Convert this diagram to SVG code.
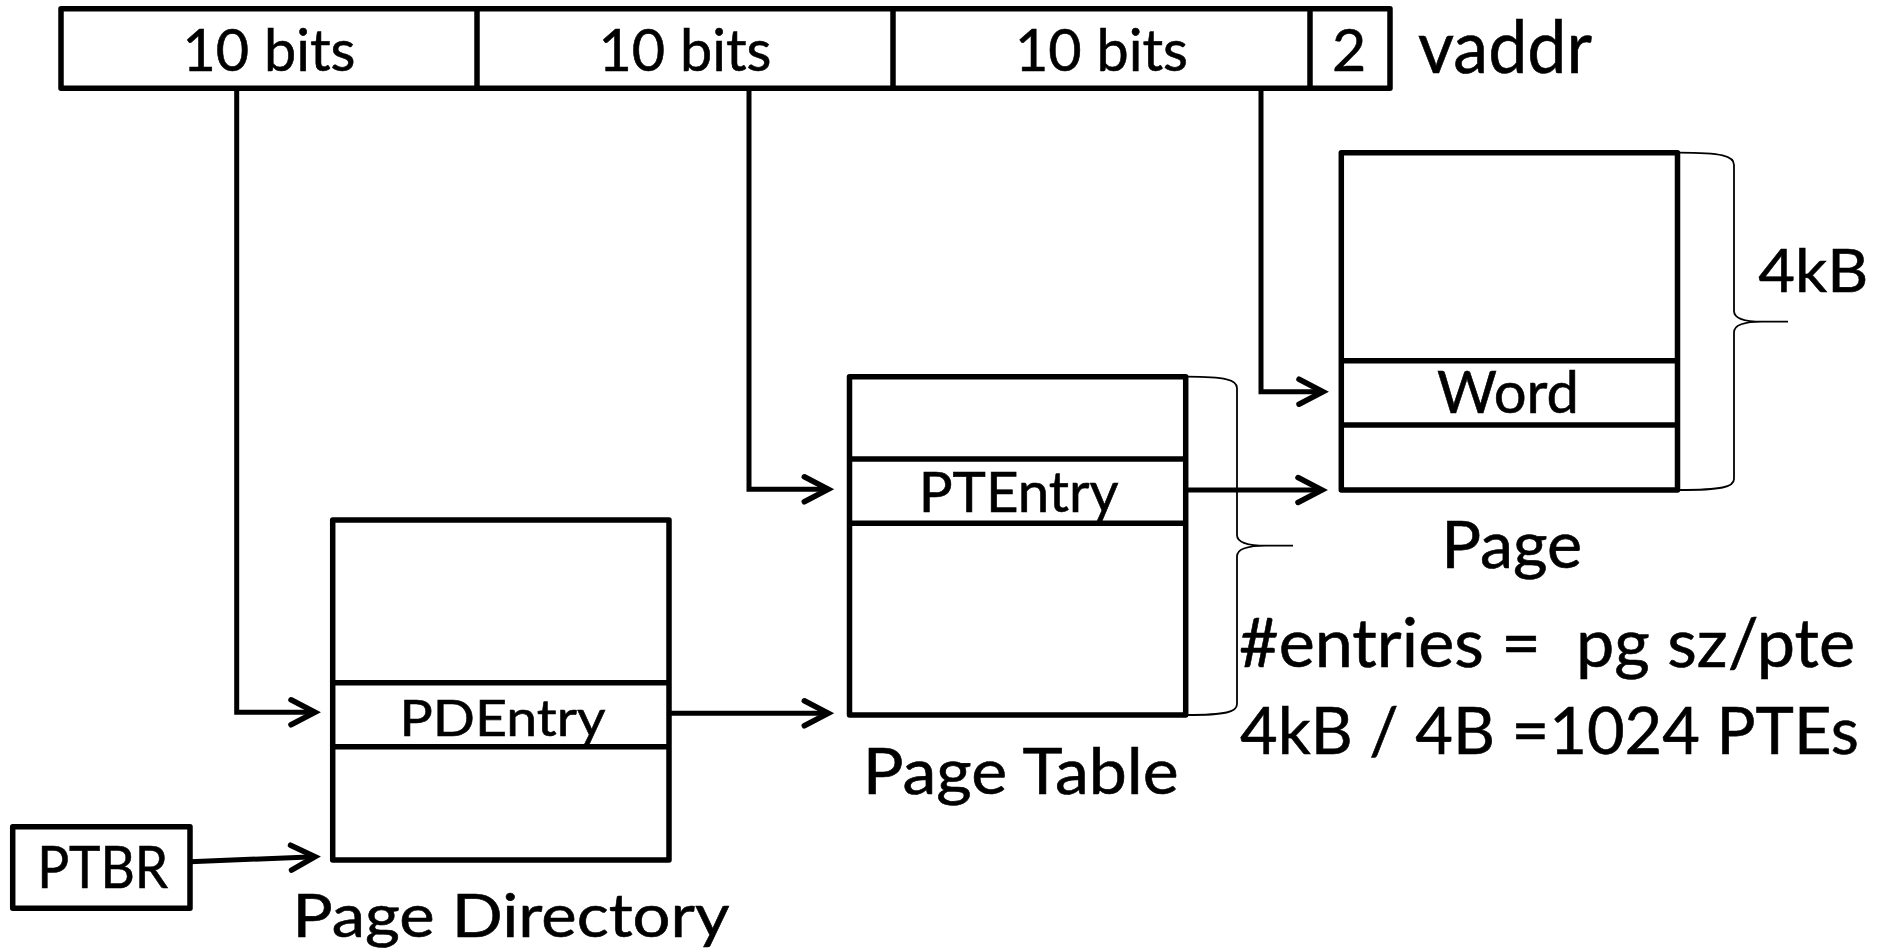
<svg xmlns="http://www.w3.org/2000/svg" width="1889" height="948" viewBox="0 0 1889 948">
  <style>
    .box { fill: #fff; stroke: #000; stroke-width: 5.5; stroke-linejoin: round; }
    .div { stroke: #000; stroke-width: 5.5; fill: none; }
    .wire { stroke: #000; stroke-width: 5; fill: none; stroke-linejoin: miter; }
    .brace { stroke: #000; stroke-width: 1.8; fill: none; }
    text { font-family: Lato, "Liberation Sans", sans-serif; fill: #000; stroke: #000; stroke-width: 0.6; }
    .c { text-anchor: middle; }
    .s { text-anchor: start; }
  </style>
  <defs>
    <marker id="arrow" markerUnits="userSpaceOnUse" markerWidth="40" markerHeight="40" viewBox="-30 -20 40 40" refX="0" refY="0" orient="auto">
      <path d="M-24,-12.5 L0,0 L-24,12.5" fill="none" stroke="#000" stroke-width="5.5" stroke-linecap="round" stroke-linejoin="miter"/>
    </marker>
  </defs>

  <rect width="1889" height="948" fill="#fff"/>

  <!-- virtual address fields -->
  <g id="vaddr">
    <rect class="box" x="61" y="8.7" width="1329" height="79.6"/>
    <line class="div" x1="477" y1="8.7" x2="477" y2="88.3"/>
    <line class="div" x1="893" y1="8.7" x2="893" y2="88.3"/>
    <line class="div" x1="1310" y1="8.7" x2="1310" y2="88.3"/>
    <text class="c" x="269" y="70.7" font-size="59" textLength="173" lengthAdjust="spacingAndGlyphs">10 bits</text>
    <text class="c" x="685" y="70.7" font-size="59" textLength="173" lengthAdjust="spacingAndGlyphs">10 bits</text>
    <text class="c" x="1101.5" y="70.7" font-size="59" textLength="173" lengthAdjust="spacingAndGlyphs">10 bits</text>
    <text class="c" x="1349" y="70.7" font-size="59">2</text>
    <text class="c" x="1505" y="72.7" font-size="74" textLength="174" lengthAdjust="spacingAndGlyphs">vaddr</text>
  </g>

  <!-- page directory -->
  <g id="page-directory">
    <rect class="box" x="332.7" y="520" width="336.3" height="340"/>
    <line class="div" x1="332.7" y1="682.7" x2="669" y2="682.7"/>
    <line class="div" x1="332.7" y1="746.7" x2="669" y2="746.7"/>
    <text class="c" x="502.5" y="736" font-size="51" textLength="206" lengthAdjust="spacingAndGlyphs">PDEntry</text>
    <text class="c" x="511" y="936.7" font-size="60" textLength="437" lengthAdjust="spacingAndGlyphs">Page Directory</text>
  </g>

  <!-- page table -->
  <g id="page-table">
    <rect class="box" x="849.5" y="376.7" width="336.2" height="338.3"/>
    <line class="div" x1="849.5" y1="459" x2="1185.7" y2="459"/>
    <line class="div" x1="849.5" y1="523.3" x2="1185.7" y2="523.3"/>
    <text class="c" x="1018.7" y="512" font-size="56.5" textLength="200" lengthAdjust="spacingAndGlyphs">PTEntry</text>
    <text class="c" x="1020.8" y="794" font-size="63.5" textLength="316" lengthAdjust="spacingAndGlyphs">Page Table</text>
    <path class="brace" d="M1186.7,376.7 C1226,376.7 1237,380 1237,388 L1237,535 C1237,542 1247,545.7 1266,545.7 L1293,545.7 M1266,545.7 C1247,545.7 1237,549.5 1237,556.5 L1237,704 C1237,712 1226,715 1186.7,715"/>
    <text class="s" x="1239" y="667" font-size="68" textLength="616" lengthAdjust="spacingAndGlyphs" xml:space="preserve">#entries =  pg sz/pte</text>
    <text class="s" x="1240" y="754" font-size="66" textLength="619" lengthAdjust="spacingAndGlyphs">4kB / 4B =1024 PTEs</text>
  </g>

  <!-- page -->
  <g id="page">
    <rect class="box" x="1341.3" y="152.7" width="336.2" height="337.3"/>
    <line class="div" x1="1341.3" y1="360.7" x2="1677.5" y2="360.7"/>
    <line class="div" x1="1341.3" y1="425" x2="1677.5" y2="425"/>
    <text class="c" x="1508" y="413.3" font-size="58" textLength="142" lengthAdjust="spacingAndGlyphs">Word</text>
    <text class="c" x="1511.7" y="568.3" font-size="65" textLength="141" lengthAdjust="spacingAndGlyphs">Page</text>
    <path class="brace" d="M1679,152.7 C1722,152.7 1734,156 1734,165 L1734,311 C1734,318 1744,321.7 1762,321.7 L1788,321.7 M1762,321.7 C1744,321.7 1734,325.5 1734,332.5 L1734,479 C1734,487 1722,490 1679,490"/>
    <text class="c" x="1813.3" y="291.7" font-size="60" textLength="110" lengthAdjust="spacingAndGlyphs">4kB</text>
  </g>

  <!-- page table base register -->
  <g id="ptbr">
    <rect class="box" x="12.7" y="826.7" width="177.3" height="81.6"/>
    <text class="c" x="102.7" y="888.3" font-size="58" textLength="131" lengthAdjust="spacingAndGlyphs">PTBR</text>
  </g>

  <!-- connectors -->
  <g id="connectors">
    <path class="wire" d="M236.7,88 V712.3 H315" marker-end="url(#arrow)"/>
    <path class="wire" d="M749,88 V489.3 H828.3" marker-end="url(#arrow)"/>
    <path class="wire" d="M1261,88 V391.7 H1323" marker-end="url(#arrow)"/>
    <path class="wire" d="M671,713.3 H828.3" marker-end="url(#arrow)"/>
    <path class="wire" d="M1183,490 H1322" marker-end="url(#arrow)"/>
    <path class="wire" d="M190,861.7 L315,856.7" marker-end="url(#arrow)"/>
  </g>
</svg>
